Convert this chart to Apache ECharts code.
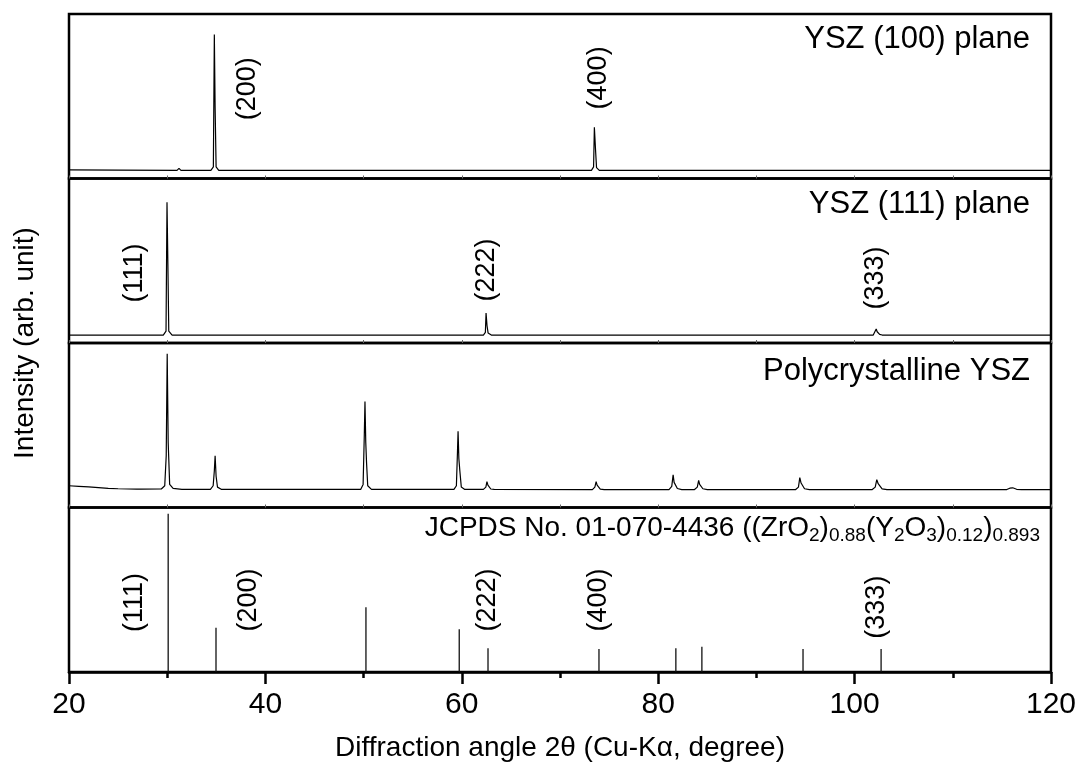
<!DOCTYPE html>
<html>
<head>
<meta charset="utf-8">
<script src="https://cdn.jsdelivr.net/npm/echarts@6/dist/echarts.min.js"></script>
<style>
  html, body { margin: 0; padding: 0; background: #fff; }
  #chart { width: 1079px; height: 762px; }
</style>
</head>
<body>
<div id="chart"></div>
<script>
// XRD patterns of YSZ single crystals, polycrystalline YSZ and the JCPDS reference lines
const FONT = 'Arial, "Liberation Sans", Helvetica, sans-serif';

const xTickLabels = [20, 40, 60, 80, 100, 120];
const panelTitles = ['YSZ (100) plane', 'YSZ (111) plane', 'Polycrystalline YSZ'];

// [2θ, intensity] — YSZ (100) single crystal
const ysz100 = [
  [20, 0.3], [25, 0.2], [31.0, 0], [31.2, 1.5], [31.4, 0],
  [34.45, 0], [34.7, 2.5], [34.8, 100], [34.88, 46], [34.98, 2.5], [35.25, 0],
  [65.2, 0], [65.4, 0.7], [65.6, 0],
  [73.2, 0], [73.42, 2.5], [73.5, 31.6], [73.62, 15], [73.72, 2], [74.0, 0],
  [120, 0]
];

// [2θ, intensity] — YSZ (111) single crystal
const ysz111 = [
  [20, 0], [26.8, 0], [27.0, 1.5], [27.2, 0],
  [29.6, 0], [29.88, 3], [29.98, 100], [30.07, 53.5], [30.16, 3], [30.5, 0],
  [62.2, 0], [62.4, 2], [62.47, 16.6], [62.57, 7], [62.68, 1.5], [63.0, 0],
  [101.9, 0], [102.1, 1.5], [102.2, 4.5], [102.3, 2.5], [102.42, 3], [102.55, 0.5], [102.8, 0],
  [120, 0]
];

// [2θ, intensity] — polycrystalline YSZ
const poly = [
  [20, 3.0], [21, 2.6], [22, 2.1], [23, 1.6], [24, 1.1], [25, 0.8], [26, 0.6],
  [26.9, 0.5], [27.1, 1.2], [27.3, 0.5],
  [29.4, 0.6], [29.75, 3], [29.9, 25], [30.0, 100], [30.1, 35], [30.25, 4], [30.6, 1], [31.5, 0.4],
  [34.4, 0.3], [34.68, 3], [34.8, 14], [34.88, 25], [34.98, 10], [35.12, 2], [35.5, 0.4],
  [44.8, 0.3], [45.0, 0.8], [45.2, 0.3],
  [49.7, 0.3], [49.95, 4], [50.07, 40], [50.14, 65], [50.22, 35], [50.3, 20], [50.42, 3], [50.8, 0.3],
  [59.2, 0.3], [59.45, 3], [59.56, 28], [59.62, 43], [59.7, 23], [59.8, 14], [59.95, 2], [60.3, 0.3],
  [62.2, 0.3], [62.45, 2], [62.56, 6], [62.66, 3.5], [62.76, 3], [62.95, 0.6], [63.3, 0.3],
  [73.3, 0.2], [73.55, 2], [73.68, 6], [73.78, 3.5], [73.88, 3], [74.1, 0.5], [74.5, 0.2],
  [81.1, 0.2], [81.38, 2.5], [81.52, 11], [81.62, 5.5], [81.74, 6], [81.95, 1], [82.4, 0.2],
  [83.7, 0.2], [83.98, 2], [84.12, 7], [84.22, 4], [84.34, 4], [84.55, 0.8], [85.0, 0.2],
  [94.0, 0.2], [94.28, 2], [94.42, 9], [94.55, 5], [94.68, 5], [94.9, 0.8], [95.4, 0.2],
  [101.8, 0.2], [102.1, 2], [102.26, 7.5], [102.4, 4.5], [102.54, 4], [102.8, 0.7], [103.3, 0.2],
  [115.5, 0.2], [115.8, 1.2], [115.95, 2.5], [116.1, 1.5], [116.25, 1.3], [116.5, 0.4], [117.0, 0.2],
  [120, 0.2]
];

// JCPDS No. 01-070-4436 reference lines
const jcpdsAngles    = [30.1, 34.97, 50.24, 59.74, 62.67, 73.97, 81.8, 84.45, 94.75, 102.7];
const jcpdsIntensity = [100, 28, 41, 27, 15, 14.5, 15, 16, 14.5, 14.5];

// Miller-index labels: [text, 2θ, intensity where the label is centred]
const hkl100   = [['(200)', 38.2, 60], ['(400)', 73.9, 68]];
const hkl111   = [['(111)', 26.7, 46.7], ['(222)', 62.57, 49], ['(333)', 102.1, 43]];
const hklJcpds = [['(111)', 26.7, 44], ['(200)', 38.3, 45.5], ['(222)', 62.67, 45.5],
                  ['(400)', 73.97, 45.5], ['(333)', 102.2, 41]];

// ---- layout ----
const plotLeft = 69, plotWidth = 982, panelH = 164.5;
const panelTops = [14, 178.5, 343, 507.5];
const yRanges = [[-6, 115], [-6, 118], [-13, 108], [0, 104]];

const chart = echarts.init(document.getElementById('chart'), null, { renderer: 'canvas' });

const grids = panelTops.map(t => ({
  left: plotLeft, width: plotWidth, top: t, height: panelH,
  show: true, borderColor: '#000', borderWidth: 2.5, backgroundColor: 'transparent'
}));

const xAxes = panelTops.map((t, i) => {
  const last = i === panelTops.length - 1;
  return {
    gridIndex: i, type: 'value', min: 20, max: 120,
    interval: last ? 20 : 10,
    axisLine: { show: last, onZero: false, lineStyle: { color: '#000', width: 2.5 } },
    axisTick: last
      ? { show: true, inside: false, length: 12, lineStyle: { color: '#000', width: 2.5 } }
      : { show: true, inside: true, length: 3, lineStyle: { color: '#666', width: 1 } },
    minorTick: last
      ? { show: true, splitNumber: 2, length: 6, lineStyle: { color: '#000', width: 2.5 } }
      : { show: false },
    axisLabel: last
      ? { show: true, fontSize: 30, color: '#000', fontFamily: FONT, margin: 18,
          formatter: v => (xTickLabels.indexOf(v) >= 0 ? String(v) : '') }
      : { show: false },
    splitLine: { show: false }
  };
});

const yAxes = yRanges.map((r, i) => ({
  gridIndex: i, type: 'value', min: r[0], max: r[1], show: false,
  splitLine: { show: false }
}));

function patternLine(data, idx) {
  return {
    type: 'line', xAxisIndex: idx, yAxisIndex: idx, data: data,
    showSymbol: false, symbol: 'none', silent: true, animation: false,
    lineStyle: { color: '#000', width: 1.2 }
  };
}

const series = [
  patternLine(ysz100, 0),
  patternLine(ysz111, 1),
  patternLine(poly, 2),
  {
    type: 'bar', xAxisIndex: 3, yAxisIndex: 3, silent: true, animation: false,
    barWidth: 1.3, itemStyle: { color: '#111' },
    data: jcpdsAngles.map((a, k) => [a, jcpdsIntensity[k]])
  }
];

chart.setOption({
  animation: false,
  backgroundColor: '#fff',
  grid: grids,
  xAxis: xAxes,
  yAxis: yAxes,
  series: series
});

// ---- text overlays ----
const graphic = [];

const titleRight = 1030;
const titleY = [39, 204, 371];
panelTitles.forEach((t, i) => graphic.push({
  type: 'text', x: titleRight, y: titleY[i], silent: true,
  style: { text: t, fill: '#000', font: '31px ' + FONT, align: 'right', verticalAlign: 'middle' }
}));

graphic.push({
  type: 'text', x: 1040, y: 530, silent: true,
  style: {
    text: '{m|JCPDS No. 01-070-4436 ((ZrO}{s|2}{m|)}{s|0.88}{m|(Y}{s|2}{m|O}{s|3}{m|)}{s|0.12}{m|)}{s|0.893}',
    align: 'right', verticalAlign: 'middle', fill: '#000',
    rich: {
      m: { fontSize: 28, fontFamily: FONT, fill: '#000', verticalAlign: 'bottom', padding: [0, 0, 3, 0] },
      s: { fontSize: 19, fontFamily: FONT, fill: '#000', verticalAlign: 'bottom' }
    }
  }
});

// Miller indices, placed through each panel's own axes
[[hkl100, 0], [hkl111, 1], [hklJcpds, 3]].forEach(([list, idx]) => {
  list.forEach(d => {
    const p = chart.convertToPixel({ xAxisIndex: idx, yAxisIndex: idx }, [d[1], d[2]]);
    graphic.push({
      type: 'text', x: p[0], y: p[1], rotation: Math.PI / 2, silent: true,
      style: { text: d[0], fill: '#000', font: '27px ' + FONT, align: 'center', verticalAlign: 'middle' }
    });
  });
});

graphic.push({
  type: 'text', x: 25, y: 343, rotation: Math.PI / 2, silent: true,
  style: { text: 'Intensity (arb. unit)', fill: '#000', font: '28px ' + FONT,
           align: 'center', verticalAlign: 'middle' }
});

graphic.push({
  type: 'text', x: plotLeft + plotWidth / 2, y: 748, silent: true,
  style: { text: 'Diffraction angle 2θ (Cu-Kα, degree)', fill: '#000', font: '28px ' + FONT,
           align: 'center', verticalAlign: 'middle' }
});

chart.setOption({ graphic: graphic });
</script>
</body>
</html>
